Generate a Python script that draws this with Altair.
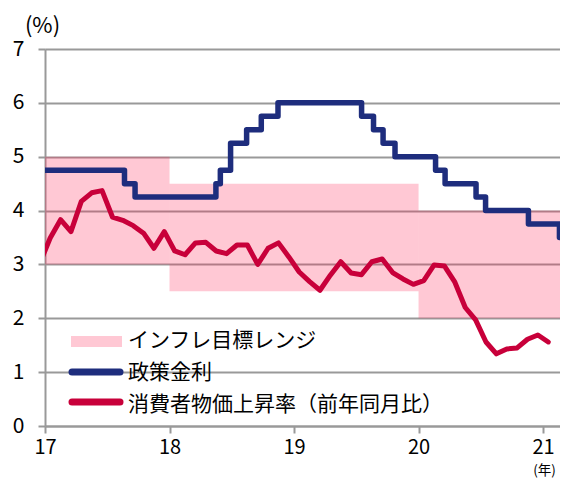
import altair as alt
import pandas as pd

FONT = "Noto Sans CJK JP"

# Consumer price inflation (y/y, %), monthly, Dec 2016 - Jan 2021
cpi_months = [
    "2016-12",
    "2017-01", "2017-02", "2017-03", "2017-04", "2017-05", "2017-06",
    "2017-07", "2017-08", "2017-09", "2017-10", "2017-11", "2017-12",
    "2018-01", "2018-02", "2018-03", "2018-04", "2018-05", "2018-06",
    "2018-07", "2018-08", "2018-09", "2018-10", "2018-11", "2018-12",
    "2019-01", "2019-02", "2019-03", "2019-04", "2019-05", "2019-06",
    "2019-07", "2019-08", "2019-09", "2019-10", "2019-11", "2019-12",
    "2020-01", "2020-02", "2020-03", "2020-04", "2020-05", "2020-06",
    "2020-07", "2020-08", "2020-09", "2020-10", "2020-11", "2020-12",
    "2021-01",
]
cpi_values = [
    3.02,
    3.49, 3.83, 3.61, 4.17, 4.33, 4.37, 3.88, 3.82, 3.72, 3.58, 3.30, 3.61,
    3.25, 3.18, 3.40, 3.41, 3.25, 3.20, 3.36, 3.36, 3.00, 3.30, 3.40, 3.14,
    2.86, 2.68, 2.52, 2.80, 3.05, 2.84, 2.81, 3.05, 3.10, 2.85, 2.73, 2.63,
    2.70, 2.99, 2.97, 2.67, 2.20, 1.97, 1.56, 1.34, 1.43, 1.45, 1.61, 1.69,
    1.56,
]

# Policy rate (%), value in force from each date
rate_dates = [
    "2017-01-01", "2017-08-22", "2017-09-22", "2018-05-17", "2018-05-30",
    "2018-06-29", "2018-08-15", "2018-09-27", "2018-11-15", "2019-07-18",
    "2019-08-22", "2019-09-19", "2019-10-24", "2020-02-20", "2020-03-19",
    "2020-06-18", "2020-07-16", "2020-11-19", "2021-02-18", "2021-02-28",
]
rate_values = [
    4.75, 4.50, 4.25, 4.50, 4.75,
    5.25, 5.50, 5.75, 6.00, 5.75,
    5.50, 5.25, 5.00, 4.75, 4.50,
    4.25, 4.00, 3.75, 3.50, 3.50,
]

# Inflation target range
band_start = [17, 18, 20]
band_end = [18, 20, 21.3]
band_low = [3.0, 2.5, 2.0]
band_high = [5.0, 4.5, 4.0]

x_ticks = [17, 18, 19, 20, 21]
y_ticks = [0, 1, 2, 3, 4, 5, 6, 7]
X_END = 21.136
x_unit = "(年)"
y_unit = "(%)"

legend_labels = ["インフレ目標レンジ", "政策金利", "消費者物価上昇率（前年同月比）"]

PINK = "#FF2353"
PINK_OPACITY = 0.25
NAVY = "#1E2D7D"
RED = "#C8003A"
GRID = "#999999"


def month_pos(s):
    y, m = s.split("-")
    return int(y) - 2000 + (int(m) - 0.5) / 12


def date_pos(s):
    t = pd.Timestamp(s)
    days = 366 if t.is_leap_year else 365
    return t.year - 2000 + (t.dayofyear - 1) / days


cpi_df = pd.DataFrame({"x": [month_pos(m) for m in cpi_months], "v": cpi_values})
rate_df = pd.DataFrame({"x": [date_pos(d) for d in rate_dates], "v": rate_values})
band_df = pd.DataFrame({"s": band_start, "e": band_end, "lo": band_low, "hi": band_high})

x_scale = alt.Scale(domain=[17, X_END], nice=False, zero=False)
y_scale = alt.Scale(domain=[0, 7], nice=False, zero=True)

x_axis = alt.Axis(
    values=x_ticks, format="d", title=x_unit, grid=False,
    labelFont=FONT, labelFontSize=20, labelColor="#000000",
    labelBaseline="alphabetic", labelPadding=20.5,
    labelFlush=False,
    tickSize=7, tickWidth=2, tickColor=GRID,
    domainColor=GRID, domainWidth=2,
    titleFont=FONT, titleFontSize=13.5, titleFontWeight="normal", titleColor="#000000",
    titleX=499, titleY=48.5, titleAlign="center", titleBaseline="alphabetic",
)
y_axis = alt.Axis(
    values=y_ticks, format="d", title=y_unit, grid=True,
    gridColor=GRID, gridWidth=2,
    labelFont=FONT, labelFontSize=21, labelColor="#000000", labelPadding=14,
    tickSize=7, tickWidth=2, tickColor=GRID,
    domainColor=GRID, domainWidth=2,
    titleFont=FONT, titleFontSize=22, titleFontWeight="normal", titleColor="#000000",
    titleAngle=0, titleX=-3, titleY=-24, titleAlign="center", titleBaseline="middle",
)

band = alt.Chart(band_df).mark_rect(color=PINK, opacity=PINK_OPACITY, clip=True).encode(
    x=alt.X("s:Q", scale=x_scale, axis=x_axis),
    x2="e:Q",
    y=alt.Y("lo:Q", scale=y_scale, axis=y_axis),
    y2="hi:Q",
)

rate = alt.Chart(rate_df).mark_line(
    color=NAVY, strokeWidth=5.5, interpolate="step-after", clip=True,
    strokeJoin="round", strokeCap="butt",
).encode(
    x=alt.X("x:Q", scale=x_scale, axis=x_axis),
    y=alt.Y("v:Q", scale=y_scale, axis=y_axis),
)

cpi = alt.Chart(cpi_df).mark_line(
    color=RED, strokeWidth=5, clip=True, strokeJoin="round", strokeCap="round",
).encode(
    x=alt.X("x:Q", scale=x_scale, axis=x_axis),
    y=alt.Y("v:Q", scale=y_scale, axis=y_axis),
)

one = pd.DataFrame({"k": [0]})

leg_rect = alt.Chart(one).mark_rect(color=PINK, opacity=PINK_OPACITY).encode(
    x=alt.value(26), x2=alt.value(77), y=alt.value(287), y2=alt.value(298)
)
leg_navy = alt.Chart(one).mark_rule(color=NAVY, strokeWidth=7, strokeCap="round").encode(
    x=alt.value(27), x2=alt.value(75), y=alt.value(323)
)
leg_red = alt.Chart(one).mark_rule(color=RED, strokeWidth=7, strokeCap="round").encode(
    x=alt.value(27), x2=alt.value(75), y=alt.value(353)
)
text_style = dict(font=FONT, fontSize=21, color="#000000", align="left", baseline="middle")
leg_t1 = alt.Chart(one).mark_text(text=legend_labels[0], **text_style).encode(
    x=alt.value(83), y=alt.value(292)
)
leg_t2 = alt.Chart(one).mark_text(text=legend_labels[1], **text_style).encode(
    x=alt.value(83), y=alt.value(324)
)
leg_t3 = alt.Chart(one).mark_text(text=legend_labels[2], **text_style).encode(
    x=alt.value(83), y=alt.value(356)
)

chart = alt.layer(
    band, rate, cpi, leg_rect, leg_navy, leg_red, leg_t1, leg_t2, leg_t3
).properties(
    width=515, height=377,
    padding={"left": 37, "top": 41, "right": 0, "bottom": 53},
    autosize=alt.AutoSizeParams(type="none"),
).configure_view(stroke=None).configure(background="#ffffff")

chart.save("out.html", embed_options={"renderer": "svg", "actions": False})
